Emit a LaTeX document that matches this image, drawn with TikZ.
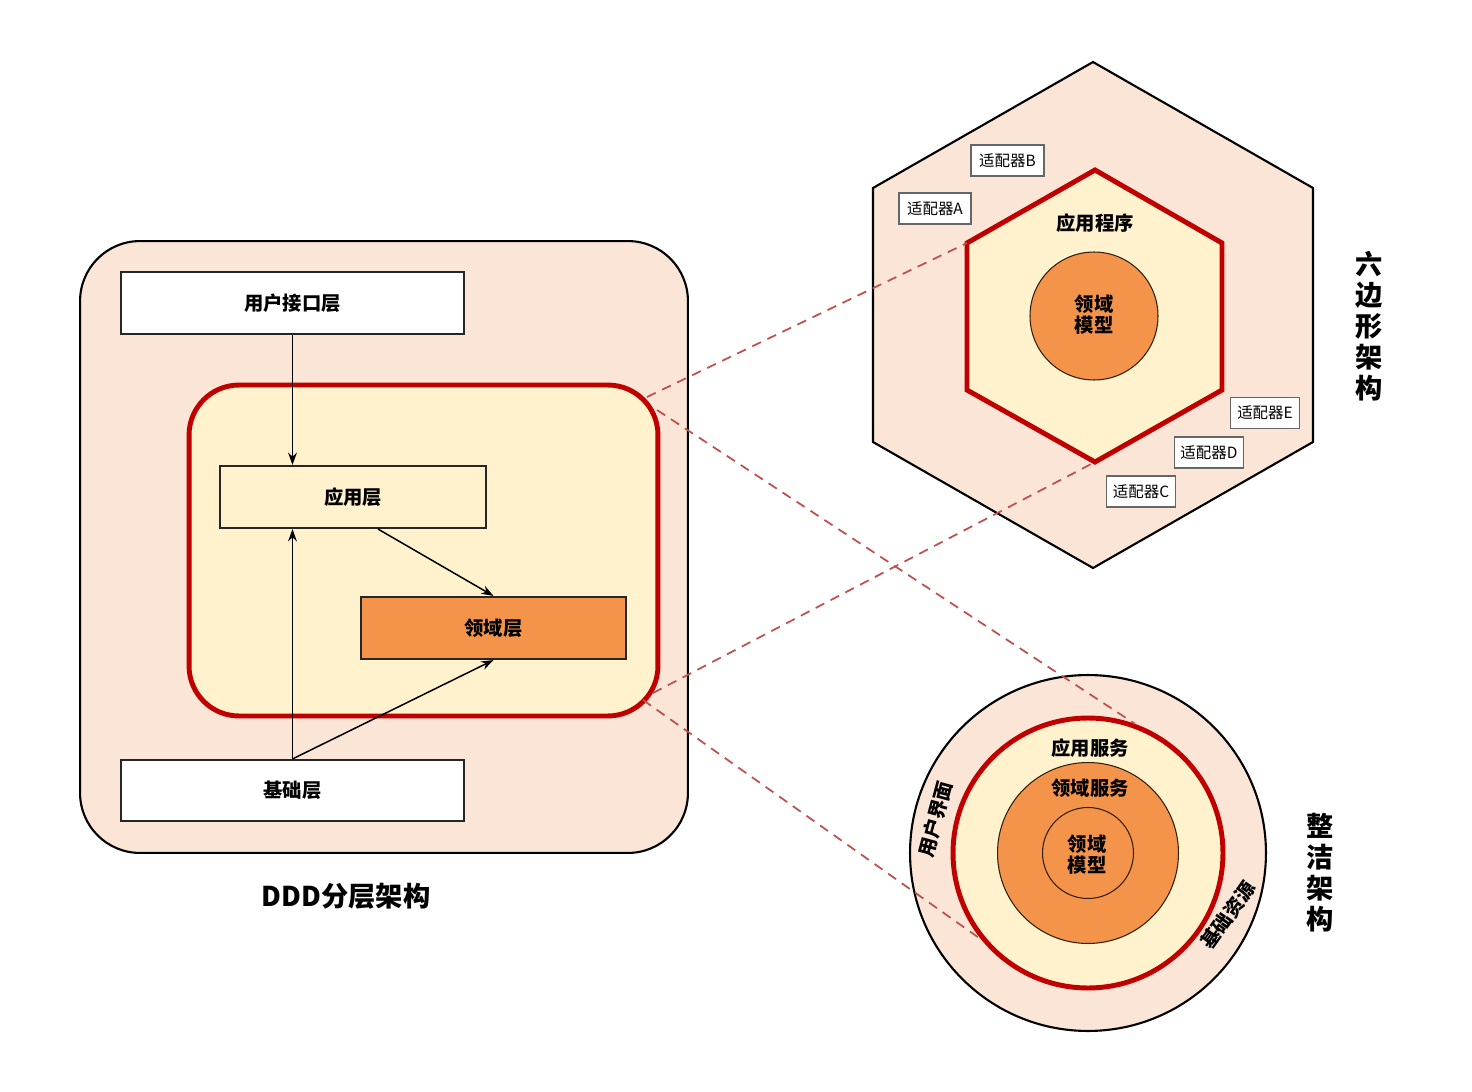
\documentclass[tikz,border=0pt]{standalone}
\usepackage{fontspec}
\setmainfont{Noto Sans CJK SC}
\usetikzlibrary{arrows.meta}
\definecolor{peach}{HTML}{FBE5D6}
\definecolor{lyellow}{HTML}{FFF2CC}
\definecolor{orangefill}{HTML}{F4944B}
\definecolor{dred}{HTML}{C00000}
\definecolor{dashred}{HTML}{C0504D}
\begin{document}
\begin{tikzpicture}[x=0.02cm,y=-0.02cm,
  box/.style={draw=black!85,line width=1.2pt,minimum width=6.86cm,minimum height=1.24cm,
    font=\fontsize{11}{13}\selectfont\bfseries,inner sep=0pt},
  arr/.style={-{Stealth[length=7pt,width=5pt]},line width=0.85pt},
  adapter/.style={draw=black!60,fill=white,line width=0.6pt,minimum width=1.38cm,
    minimum height=0.62cm,inner sep=0pt,font=\fontsize{8.8}{10}\selectfont},
  link/.style={draw=dashred,dash pattern=on 5.5pt off 4pt,line width=1pt},
  lbl/.style={font=\fontsize{11}{13}\selectfont\bfseries,align=center,inner sep=0pt},
  title/.style={font=\fontsize{15.5}{17.6}\selectfont\bfseries,align=center,inner sep=0pt},
  ring/.style={circle,inner sep=0pt}]
\useasboundingbox (0,0) rectangle (1472,1092);

% ---------- DDD layered architecture ----------
\node[draw=black,line width=1.2pt,fill=peach,rounded corners=1.2cm,
  minimum width=12.16cm,minimum height=12.24cm] (ddd) at (384,547) {};
\node[draw=dred,line width=2.8pt,fill=lyellow,rounded corners=1.0cm,
  minimum width=9.38cm,minimum height=6.62cm] (core) at (423.5,550.5) {};

\node[box,fill=white] (ui) at (292.5,303) {用户接口层};
\node[box,fill=lyellow,minimum width=5.32cm] (app) at (353,497) {应用层};
\node[box,fill=orangefill,minimum width=5.30cm] (dom) at (493.5,628) {领域层};
\node[box,fill=white,minimum height=1.22cm] (infra) at (292.5,790.5) {基础层};

\draw[arr] (ui.south) -- (ui.south |- app.north);
\draw[arr] (infra.north) -- (infra.north |- app.south);
\draw[arr] (infra.north) -- (dom.south);
\draw[arr] ([xshift=0.5cm]app.south) -- (dom.north);

\node[title] (dddt) at (346,896) {DDD分层架构};

% ---------- Hexagonal architecture ----------
\draw[fill=peach,line width=1.2pt] (1093,62) -- (1313,188) -- (1313,442) -- (1093,568)
  -- (873,442) -- (873,188) -- cycle;
\draw[draw=dred,fill=lyellow,line width=2.8pt] (1095,170) -- (1222,243) -- (1222,390)
  -- (1095,462) -- (967,390) -- (967,243) -- cycle;
\coordinate (hexL) at (967,243);
\coordinate (hexB) at (1095,462);
\node[ring,draw=black!80!orangefill,line width=0.6pt,fill=orangefill,minimum size=2.56cm] (hexC) at (1094,316) {};
\node[lbl] (hexApp) at (1095,223) {应用程序};
\node[lbl] (hexDom) at (1094,315) {领域\\[-1pt]模型};

\node[adapter,minimum width=1.46cm] (adB) at (1007.5,160.5) {适配器B};
\node[adapter,minimum width=1.44cm] (adA) at (935,208.5) {适配器A};
\node[adapter] (adE) at (1265,413) {适配器E};
\node[adapter] (adD) at (1209,452.5) {适配器D};
\node[adapter] (adC) at (1141,491.5) {适配器C};

\node[title] (hexT) at (1369,326) {六\\边\\形\\架\\构};

% ---------- Clean architecture ----------
\node[ring,draw=black,line width=1.2pt,fill=peach,minimum size=7.12cm] (cOut) at (1088,853) {};
\node[ring,draw=dred,line width=2.8pt,fill=lyellow,minimum size=5.4cm] (cRed) at (1088,853) {};
\node[ring,draw=black!80!orangefill,line width=0.6pt,fill=orangefill,minimum size=3.62cm] (cDomS) at (1088,853) {};
\node[ring,draw=black!80!orangefill,line width=0.6pt,minimum size=1.82cm] (cDomM) at (1088,853) {};

\node[lbl] (cApp) at (1090,748) {应用服务};
\node[lbl] (cSvc) at (1090,788) {领域服务};
\node[lbl] (cMod) at (1087,855) {领域\\[-1pt]模型};
\node[lbl,rotate=75] (cUI) at (935,819) {用户界面};
\node[lbl,rotate=55] (cInfra) at (1228,915) {基础资源};

\node[title] (cleanT) at (1320,873) {整\\洁\\架\\构};

% ---------- dashed links ----------
\coordinate (k1) at (647,397);
\coordinate (k2) at (657,410);
\coordinate (k3) at (653,693);
\coordinate (k4) at (643,700);
\draw[link] (k1) -- (hexL);
\draw[link] (k2) -- (cRed.70);
\draw[link] (k3) -- (hexB);
\draw[link] (k4) -- (cRed.219);
\end{tikzpicture}
\end{document}
